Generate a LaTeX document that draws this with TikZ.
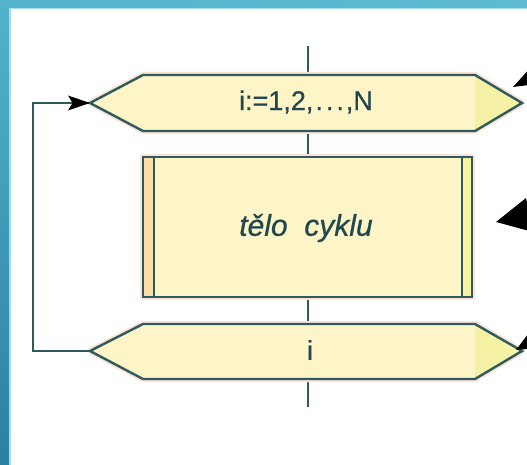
\documentclass[tikz,border=0pt]{standalone}
\usepackage{fontspec}
\setmainfont{Liberation Sans}
\usetikzlibrary{arrows.meta}
\definecolor{lineclr}{HTML}{2F5A5E}
\definecolor{txtclr}{HTML}{22474C}
\definecolor{bodyfill}{HTML}{FDF5C8}
\definecolor{tipfill}{HTML}{F5F2A6}
\definecolor{sidefill}{HTML}{FADDA9}
\definecolor{haloclr}{HTML}{FBE3D6}
\definecolor{frameA}{HTML}{52B4CB}
\definecolor{frameB}{HTML}{2D7FA1}
\definecolor{frameC}{HTML}{5CBBD1}
\definecolor{frameline}{HTML}{A6DCEA}
\begin{document}
\begin{tikzpicture}[x=1pt,y=-1pt,
  outline/.style={draw=lineclr, line width=2.4pt, line join=miter},
  halo/.style={draw=haloclr, line width=6pt, line join=round},
  lbl/.style={text=txtclr, inner sep=0pt, font=\fontsize{27}{27}\selectfont},
  flow/.style={draw=lineclr, line width=2.4pt},
  head/.style={fill=black},
]
\useasboundingbox (0,0) rectangle (527,465);
\clip (0,0) rectangle (527,465);
\fill[white] (0,0) rectangle (527,465);

% slide frame
\shade[top color=frameA, bottom color=frameB] (0,0) rectangle (9,465);
\shade[left color=frameA, right color=frameC] (0,0) rectangle (527,8);
\fill[frameline] (9,8) rectangle (10.5,465);
\fill[frameline] (9,8) rectangle (527,9.3);

% key points
\coordinate (ctop) at (308,46);
\coordinate (cbot) at (308,407);
\coordinate (topL) at (90,103);
\coordinate (botL) at (90,351);
\coordinate (bend) at (33,351);

% centre line
\draw[flow] (ctop) -- (cbot);

% loop header
\path[halo] (topL) -- (143,75) -- (475,75) -- (522,103) -- (475,131) -- (143,131) -- cycle;
\fill[bodyfill] (topL) -- (143,75) -- (475,75) -- (522,103) -- (475,131) -- (143,131) -- cycle;
\fill[tipfill] (475,75) -- (522,103) -- (475,131) -- cycle;
\draw[outline] (topL) -- (143,75) -- (475,75) -- (522,103) -- (475,131) -- (143,131) -- cycle;
\node[lbl] (head) at (306,102) {\addfontfeature{FakeBold=0.6}i:=1,2,\kern2pt.\kern3pt.\kern3pt.\kern2pt,N};

% loop body
\path[halo] (143,157) rectangle (472,297);
\fill[bodyfill] (143,157) rectangle (472,297);
\fill[sidefill] (143,157) rectangle (154,297);
\fill[tipfill] (462,157) rectangle (472,297);
\draw[outline] (143,157) rectangle (472,297);
\draw[lineclr, line width=1.8pt] (154,157) -- (154,297);
\draw[lineclr, line width=1.8pt] (462,157) -- (462,297);
\node[lbl, font=\fontsize{30}{30}\selectfont\itshape] (body) at (306,228) {\addfontfeature{FakeBold=0.6}tělo\ \ cyklu};

% loop end
\path[halo] (botL) -- (143,324) -- (475,324) -- (522,351) -- (475,379) -- (143,379) -- cycle;
\fill[bodyfill] (botL) -- (143,324) -- (475,324) -- (522,351) -- (475,379) -- (143,379) -- cycle;
\fill[tipfill] (475,324) -- (522,351) -- (475,379) -- cycle;
\draw[outline] (botL) -- (143,324) -- (475,324) -- (522,351) -- (475,379) -- (143,379) -- cycle;
\node[lbl] (ivar) at (310,350) {\addfontfeature{FakeBold=0.8}i};

% return connector
\draw[flow] (botL) -- (bend) |- (topL);
\fill[black] (topL) -- ++(-22,-7.5) -- ++(4.5,7.5) -- ++(-4.5,7.5) -- cycle;

% callout arrowheads at the right edge
\fill[head] (513,87) -- (532,66) -- (537,84) -- cycle;
\fill[head] (496,222) -- (526,198) -- (533,232) -- cycle;
\fill[head] (516,350) -- (531,330) -- (538,348) -- cycle;
\end{tikzpicture}
\end{document}
